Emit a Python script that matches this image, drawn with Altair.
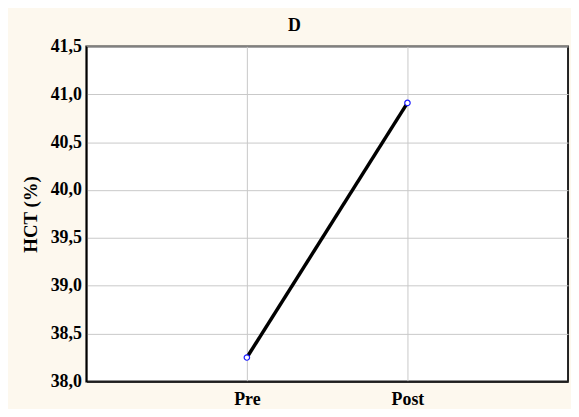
import altair as alt
import pandas as pd

phases = ["Pre", "Post"]
hct = [38.25, 40.91]

df = pd.DataFrame({"phase": phases, "hct": hct})

FONT = "Liberation Serif"

base = alt.Chart(df).encode(
    x=alt.X("phase:N", sort=phases,
            scale=alt.Scale(type="point", padding=1),
            axis=alt.Axis(title=None, labelAngle=0, labelFont=FONT, labelFontSize=18,
                          labelFontWeight="bold", labelColor="black", labelPadding=9,
                          ticks=False, domainColor="black", domainWidth=1.5,
                          grid=True, gridColor="#c8c8c8", gridWidth=1)),
    y=alt.Y("hct:Q",
            scale=alt.Scale(domain=[38.0, 41.5], nice=False, zero=False),
            axis=alt.Axis(title="HCT (%)", values=[38.0, 38.5, 39.0, 39.5, 40.0, 40.5, 41.0, 41.5],
                          format=".1f", labelExpr="replace(datum.label, '.', ',')",
                          labelFont=FONT, labelFontSize=18, labelFontWeight="bold",
                          labelColor="black", labelPadding=5, ticks=False,
                          titleFont=FONT, titleFontSize=19, titleFontWeight="bold",
                          titleColor="black", titlePadding=10,
                          domainColor="black", domainWidth=1.5,
                          grid=True, gridColor="#c8c8c8", gridWidth=1)),
)

line = base.mark_line(color="black", strokeWidth=3.5)
pts = base.mark_point(shape="circle", size=30, filled=False, color="#1a1aff",
                      fill="white", fillOpacity=1, strokeWidth=1.2, opacity=1)

chart = (line + pts).properties(
    width=486, height=338,
    title=alt.TitleParams("D", font=FONT, fontSize=18, fontWeight="bold", color="black",
                          anchor="middle", dx=-33, offset=3),
    background="#fdf8ee",
    padding={"left": 79, "top": 37, "right": 3, "bottom": 26},
    autosize=alt.AutoSizeParams(type="none"),
).configure_view(stroke="#222", strokeWidth=2, fill="white")

chart.save("out.html", embed_options={"renderer": "svg", "actions": False})
